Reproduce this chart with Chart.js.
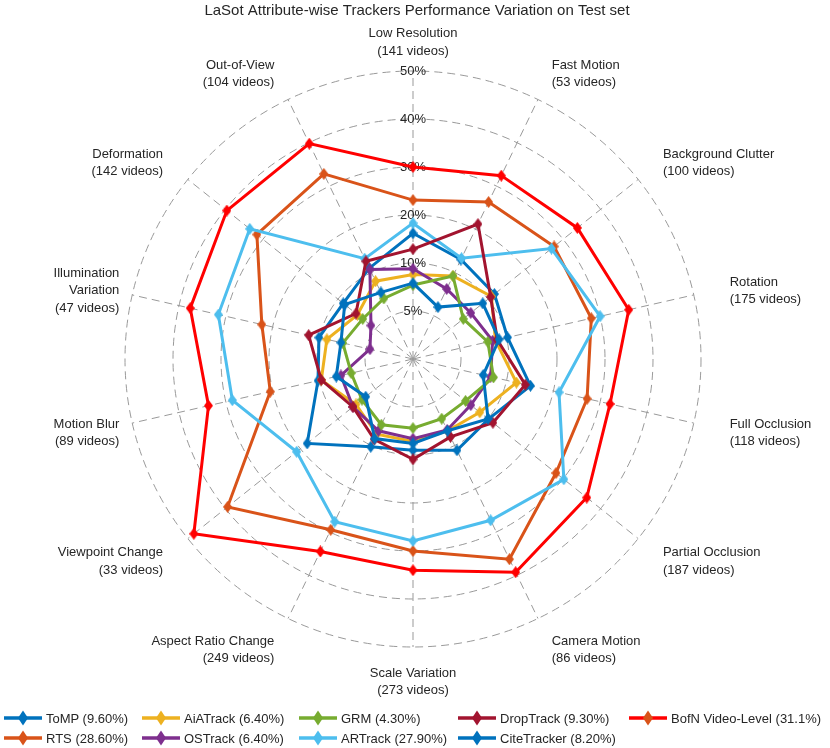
<!DOCTYPE html>
<html>
<head>
<meta charset="utf-8">
<title>LaSot Attribute-wise Trackers Performance Variation</title>
<script src="https://cdn.jsdelivr.net/npm/chart.js@4.4.0/dist/chart.umd.min.js"></script>
<style>
  html, body { margin: 0; padding: 0; background: #fff; }
  #wrap { position: relative; width: 830px; height: 748px; font-family: "Liberation Sans", Arial, sans-serif; }
  #radar { position: absolute; left: 0; top: 0; }
  .item { position: absolute; height: 18px; display: flex; align-items: center; font-size: 13px; color: #262626; white-space: nowrap; }
  .item svg { margin-right: 4px; }
</style>
</head>
<body>
<div id="wrap">
  <canvas id="radar" width="830" height="748"></canvas>
</div>
<script>
// attributes (axes), clockwise from the top
const attributes = ['Low Resolution', 'Fast Motion', 'Background Clutter', 'Rotation', 'Full Occlusion',
  'Partial Occlusion', 'Camera Motion', 'Scale Variation', 'Aspect Ratio Change', 'Viewpoint Change',
  'Motion Blur', 'Illumination|Variation', 'Deformation', 'Out-of-View'];
const videoCounts = [141, 53, 100, 175, 118, 187, 86, 273, 249, 33, 89, 47, 142, 104];

// the rings are equally spaced but labelled 5%, 10%, 20% ... 50%
const tickPercents = [0, 5, 10, 20, 30, 40, 50];

// performance variation per attribute (%)
const tomp        = [16.2, 13.0, 11.7, 10.2, 15.1, 10.1, 11.1, 9.5, 10.3, 18.2, 10.3, 10.1, 9.3, 11.0];
const rts         = [23.1, 26.3, 27.6, 28.1, 27.2, 28.1, 36.3, 30.0, 29.5, 39.4, 20.5, 22.3, 31.6, 32.8];
const aiatrack    = [8.8, 9.6, 10.9, 8.8, 12.1, 8.9, 8.3, 8.6, 8.7, 7.6, 9.8, 9.2, 7.4, 9.0];
const ostrack     = [9.4, 8.1, 7.7, 8.5, 8.3, 7.7, 8.2, 8.3, 8.3, 8.0, 7.7, 4.6, 5.6, 10.7];
const grm         = [7.7, 9.6, 6.7, 8.0, 8.6, 7.0, 6.9, 7.2, 7.6, 6.8, 6.6, 7.5, 6.7, 7.0];
const artrack     = [18.3, 13.3, 26.9, 30.0, 21.2, 30.2, 27.3, 27.9, 27.6, 21.0, 28.6, 31.6, 33.5, 13.2];
const droptrack   = [12.9, 21.2, 10.7, 9.0, 14.0, 11.3, 9.0, 10.9, 9.3, 8.0, 9.8, 12.3, 7.6, 12.6];
const citetracker = [7.9, 6.0, 9.3, 9.2, 7.5, 10.0, 8.3, 8.8, 9.2, 6.3, 8.2, 7.7, 9.1, 7.7];
const bofn        = [30.0, 32.4, 33.8, 36.1, 32.1, 36.3, 39.3, 34.0, 34.5, 48.4, 33.7, 37.6, 39.6, 39.8];

const trackerNames = ['ToMP (9.60%)', 'RTS (28.60%)', 'AiATrack (6.40%)', 'OSTrack (6.40%)', 'GRM (4.30%)',
  'ARTrack (27.90%)', 'DropTrack (9.30%)', 'CiteTracker (8.20%)', 'BofN Video-Level (31.1%)'];
const trackerValues = [tomp, rts, aiatrack, ostrack, grm, artrack, droptrack, citetracker, bofn];
const lineColors = ['#0072BD', '#D95319', '#EDB120', '#7E2F8E', '#77AC30', '#4DBEEE', '#A2142F', '#0072BD', '#FF0000'];
const legendMarkerColors = ['#0072BD', '#D95319', '#EDB120', '#7E2F8E', '#77AC30', '#4DBEEE', '#A2142F', '#0072BD', '#D95319'];

const TITLE = 'LaSot Attribute-wise Trackers Performance Variation on Test set';
const FONT = '"Liberation Sans", Arial, sans-serif';
const TEXT = '#262626';
const GRID = '#999999';

// percent -> ring index (piecewise, following the tick labels)
function toRing(v) {
  for (let k = 1; k < tickPercents.length; k++) {
    if (v <= tickPercents[k]) {
      return k - 1 + (v - tickPercents[k - 1]) / (tickPercents[k] - tickPercents[k - 1]);
    }
  }
  return tickPercents.length - 1;
}

// tall diamond marker like the matlab one
function makeDiamond(color, w, h) {
  const c = document.createElement('canvas');
  c.width = w; c.height = h;
  const g = c.getContext('2d');
  g.fillStyle = color;
  g.beginPath();
  g.moveTo(w / 2, 0);
  g.lineTo(w, h / 2);
  g.lineTo(w / 2, h);
  g.lineTo(0, h / 2);
  g.closePath();
  g.fill();
  return c;
}

const datasets = trackerNames.map((name, i) => ({
  label: name,
  data: trackerValues[i].map(toRing),
  borderColor: lineColors[i],
  backgroundColor: lineColors[i],
  borderWidth: 3,
  fill: false,
  pointStyle: makeDiamond(lineColors[i], 9, 12),
  pointRadius: 5,
  order: trackerNames.length - 1 - i
}));

// keep the web centred in the chart area and filling it
const centreWeb = {
  id: 'centreWeb',
  afterLayout(chart) {
    const a = chart.chartArea;
    const r = chart.scales.r;
    r.xCenter = (a.left + a.right) / 2;
    r.yCenter = (a.top + a.bottom) / 2;
    r.drawingArea = Math.min(a.right - a.left, a.bottom - a.top) / 2;
  }
};

// title and attribute labels (placed just outside the outer ring)
const attributeLabels = {
  id: 'attributeLabels',
  afterDraw(chart) {
    const scale = chart.scales.r;
    const ctx = chart.ctx;
    const n = attributes.length;
    ctx.save();
    ctx.fillStyle = TEXT;
    ctx.textBaseline = 'middle';
    ctx.textAlign = 'center';
    ctx.font = '15px ' + FONT;
    ctx.fillText(TITLE, scale.xCenter + 4, 11);

    ctx.font = '13px ' + FONT;
    attributes.forEach((name, i) => {
      const lines = name.split('|').concat('(' + videoCounts[i] + ' videos)');
      const pos = scale.getPointPosition(i, scale.drawingArea * 1.11);
      const s = Math.sin(i * 2 * Math.PI / n);
      let x = pos.x;
      if (Math.abs(s) < 0.01) {
        ctx.textAlign = 'center';
      } else if (s > 0) {
        ctx.textAlign = 'left';
        if (s > 0.9) x += 5;
      } else {
        ctx.textAlign = 'right';
        if (s < -0.9) x += 18;
      }
      const lh = 17.4;
      const y0 = pos.y - (lines.length - 1) * lh / 2 + 3;
      lines.forEach((t, k) => ctx.fillText(t, x, y0 + k * lh));
    });
    ctx.restore();
  }
};

new Chart(document.getElementById('radar'), {
  type: 'radar',
  data: { labels: attributes, datasets: datasets },
  options: {
    responsive: false,
    animation: false,
    layout: { padding: { left: 125, right: 129, top: 71, bottom: 101 } },
    elements: { line: { tension: 0 } },
    plugins: {
      legend: { display: false },
      tooltip: { enabled: false },
      title: { display: false }
    },
    scales: {
      r: {
        min: 0,
        max: tickPercents.length - 1,
        ticks: {
          stepSize: 1,
          callback: v => (v === 0 ? '' : tickPercents[v] + '%'),
          color: TEXT,
          font: { size: 13, family: FONT },
          showLabelBackdrop: false
        },
        grid: { circular: true, color: GRID, lineWidth: 1 },
        border: { dash: [8, 5] },
        angleLines: { color: GRID, lineWidth: 1, borderDash: [8, 5] },
        pointLabels: { display: false }
      }
    }
  },
  plugins: [centreWeb, attributeLabels]
});

// legend: 5 columns x 2 rows, filled column by column
const legendCols = [4, 142, 299, 458, 629];
const legendRows = [709, 729];
const wrap = document.getElementById('wrap');
trackerNames.forEach((name, i) => {
  const item = document.createElement('div');
  item.className = 'item';
  item.style.left = legendCols[Math.floor(i / 2)] + 'px';
  item.style.top = legendRows[i % 2] + 'px';
  item.innerHTML =
    '<svg width="38" height="16" viewBox="0 0 38 16">' +
    '<line x1="0" y1="8" x2="38" y2="8" stroke="' + lineColors[i] + '" stroke-width="3.5"/>' +
    '<polygon points="19,0.5 24,8 19,15.5 14,8" fill="' + legendMarkerColors[i] + '"/>' +
    '</svg><span>' + name + '</span>';
  wrap.appendChild(item);
});
</script>
</body>
</html>
